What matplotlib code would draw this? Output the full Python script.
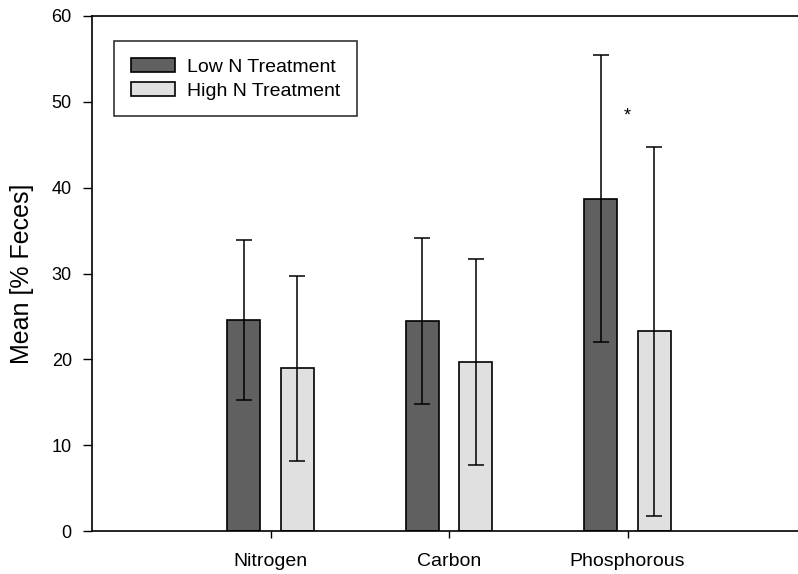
import numpy as np
import matplotlib
matplotlib.use("Agg")
import matplotlib.pyplot as plt

plt.rcParams['font.family'] = ['Liberation Sans', 'DejaVu Sans']

categories = ['Nitrogen', 'Carbon', 'Phosphorous']
low_mean = [24.6, 24.45, 38.7]
low_err = [9.35, 9.7, 16.7]
high_mean = [18.95, 19.7, 23.25]
high_err = [10.75, 12.0, 21.45]
star_y = 48.4

fig = plt.figure(figsize=(7.98, 5.74), dpi=100)
ax = fig.add_axes([92 / 798, 43 / 574, 714 / 798, 515 / 574])

x = np.arange(1, len(categories) + 1)
w = 0.185
off = 0.15

ax.bar(x - off, low_mean, w, color='#606060', edgecolor='black', linewidth=1.2,
       label='Low N Treatment', zorder=2)
ax.bar(x + off, high_mean, w, color='#e0e0e0', edgecolor='black', linewidth=1.2,
       label='High N Treatment', zorder=2)
ax.errorbar(x - off, low_mean, yerr=low_err, fmt='none', ecolor='black',
            elinewidth=1.1, capsize=5.8, capthick=1.1, zorder=3)
ax.errorbar(x + off, high_mean, yerr=high_err, fmt='none', ecolor='black',
            elinewidth=1.1, capsize=5.8, capthick=1.1, zorder=3)

ax.text(x[2], star_y, '*', ha='center', va='center', fontsize=13)

ax.set_xlim(0, 4)
ax.set_ylim(0, 60)
ax.set_xticks(x)
ax.set_xticklabels(categories, fontsize=14)
ax.set_yticks(np.arange(0, 61, 10))
ax.tick_params(axis='y', direction='out', length=6.5, width=1, labelsize=13, pad=8)
ax.tick_params(axis='x', direction='out', length=5, width=1, pad=11)
ax.set_ylabel('Mean [% Feces]', fontsize=18, labelpad=13)

ax.spines['right'].set_visible(False)
for s in ['left', 'top', 'bottom']:
    ax.spines[s].set_linewidth(1.2)

leg = ax.legend(loc='upper left', bbox_to_anchor=(0.031, 0.951), borderaxespad=0,
                fontsize=14, frameon=True, fancybox=False, edgecolor='black',
                handlelength=2.3, handleheight=0.77, borderpad=0.85,
                labelspacing=0.3, handletextpad=0.6)
leg.get_frame().set_linewidth(1.2)

fig.savefig('out.png', dpi=100)
